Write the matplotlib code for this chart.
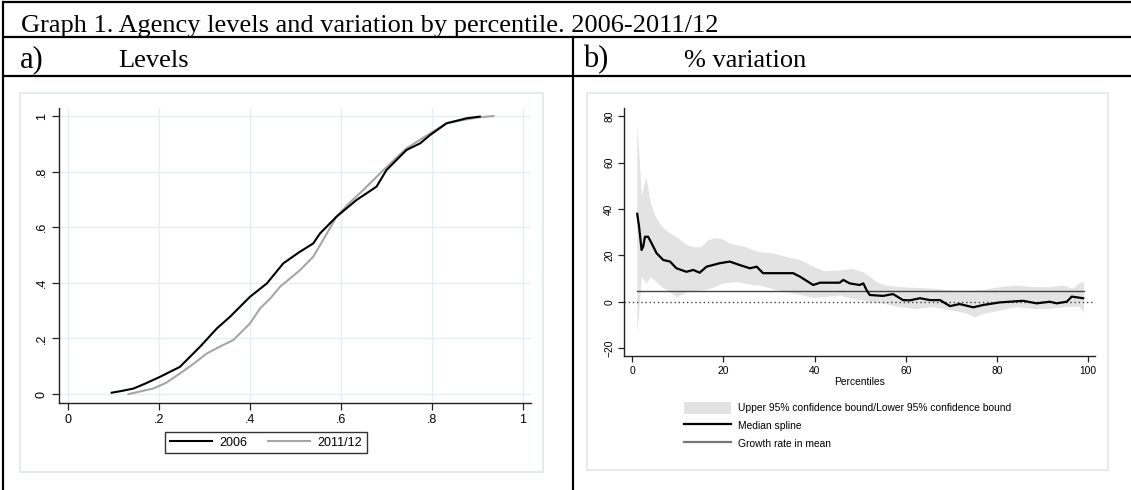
"""Graph 1 - agency levels (CDF) and % variation by percentile, 2006-2011/12."""
import matplotlib

matplotlib.use("Agg")
import matplotlib.pyplot as plt
from matplotlib.patches import Patch, Rectangle
from matplotlib.lines import Line2D

plt.rcParams["font.family"] = ["Liberation Sans", "DejaVu Sans"]

# ---- panel a: cumulative distribution of agency ----
LVL_X_2006 = [0.096, 0.12, 0.144, 0.17, 0.202, 0.246, 0.29, 0.327, 0.356, 0.40, 0.437,
              0.473, 0.506, 0.539, 0.554, 0.59, 0.634, 0.678, 0.70, 0.744, 0.774, 0.796,
              0.832, 0.876, 0.905]
LVL_Y_2006 = [0.005, 0.012, 0.02, 0.038, 0.062, 0.098, 0.17, 0.236, 0.278, 0.35, 0.398,
              0.47, 0.508, 0.542, 0.578, 0.638, 0.698, 0.746, 0.806, 0.878, 0.902, 0.932,
              0.974, 0.992, 0.998]
LVL_X_2011 = [0.133, 0.16, 0.1875, 0.215, 0.246, 0.275, 0.305, 0.335, 0.363, 0.40, 0.422,
              0.445, 0.466, 0.51, 0.539, 0.569, 0.59, 0.62, 0.649, 0.686, 0.715, 0.744,
              0.796, 0.832, 0.869, 0.90, 0.935]
LVL_Y_2011 = [0.0, 0.01, 0.02, 0.04, 0.074, 0.108, 0.146, 0.172, 0.194, 0.254, 0.308,
              0.345, 0.386, 0.446, 0.494, 0.578, 0.638, 0.69, 0.734, 0.794, 0.84, 0.884,
              0.938, 0.974, 0.986, 0.995, 1.0]
LVL_TICKS = [0, 0.2, 0.4, 0.6, 0.8, 1]
LVL_TICKLABELS = ["0", ".2", ".4", ".6", ".8", "1"]

# ---- panel b: % variation by percentile ----
BAND_X = [1, 1.5, 2, 2.5, 3, 4, 5, 6.5, 8, 9.7, 12, 13.5, 15, 16.5, 18, 19.5, 21.5, 23,
          25, 27, 28, 31, 34, 37, 40, 42, 45.5, 48, 50.5, 52, 53.5, 55.5, 58.5, 62, 66,
          70, 73, 75, 77, 80.5, 84, 88, 91.5, 94.5, 96.5, 98, 99]
BAND_UP = [77, 62.6, 45.3, 50, 54, 42.5, 37, 32.4, 30, 28, 24.5, 23.7, 23.7, 26.6, 27.6,
           27.3, 25.2, 24.5, 23.7, 22, 21.6, 20.9, 19.4, 18, 15, 13.4, 13.7, 14.4, 13, 11,
           8.6, 7.2, 6.5, 6.2, 5.8, 5.0, 5.0, 5.0, 5.3, 6.5, 7.2, 6.5, 6.5, 7.2, 5.8, 8.2,
           8.6]
BAND_LO = [-13.6, -2.2, 10.8, 9.5, 7.9, 10.8, 9, 6.5, 4.5, 2.2, 4.3, 4.8, 5, 5.5, 6.5,
           7.9, 8.4, 8.6, 7.9, 7.2, 7.2, 5.5, 4.2, 3, 1.8, 2.2, 2.9, 1.5, 0.7, 0, -0.3,
           -0.8, -2.2, -2.9, -2.2, -3.6, -4.7, -6.5, -5, -3.6, -2.2, -2.9, -2.9, -2.2, -2,
           -2, -4.7]
MED_X = [1.1, 1.5, 2.06, 2.4, 2.8, 3.5, 4.25, 5.35, 6.8, 8.3, 9.7, 11.9, 13.4, 14.8,
         16.3, 19.2, 21.4, 23.6, 25.8, 27.3, 28.7, 32.4, 35.3, 36.8, 39.7, 41.2, 44.1,
         45.5, 46.3, 47.7, 49.9, 50.7, 51.4, 52.1, 55, 57.2, 59.4, 60.9, 63.1, 65.3, 67.5,
         69.7, 71.8, 74.8, 77, 80.6, 85.7, 88.7, 91.6, 93.1, 95.3, 96.4, 97.5, 98.9]
MED_Y = [37.9, 32.4, 22.3, 23.7, 28, 28, 25.2, 20.9, 18, 17.3, 14.4, 12.9, 13.7, 12.5,
         15.1, 16.6, 17.3, 15.8, 14.4, 15.1, 12.3, 12.3, 12.3, 10.8, 7.2, 8.2, 8.2, 8.2,
         9.4, 7.9, 7.2, 7.9, 5.0, 2.9, 2.5, 3.3, 0.7, 0.6, 1.5, 0.7, 0.7, -1.9, -1.0, -2.4,
         -1.4, -0.3, 0.4, -0.7, 0.0, -0.7, 0.0, 2.2, 1.9, 1.5]
MEAN_GROWTH = 4.5
MEAN_SPAN = [1, 99]
PCT_XTICKS = [0, 20, 40, 60, 80, 100]
PCT_YTICKS = [-20, 0, 20, 40, 60, 80]

W, H = 1131, 490
GRID = "#e6eef0"
REGION = "#e0e8ea"
SERIF = ["Liberation Serif", "DejaVu Serif"]


def fx(px):
    return px / W


def fy(py):
    return 1 - py / H


fig = plt.figure(figsize=(W / 100, H / 100), dpi=100)

# background table, drawn in pixel coordinates
bg = fig.add_axes([0, 0, 1, 1], zorder=0)
bg.set_xlim(0, W); bg.set_ylim(H, 0); bg.axis("off")
for y in (2, 37.5, 76):
    bg.plot([2, W], [y, y], color="black", lw=1.6, solid_capstyle="butt")
bg.plot([2.5, 2.5], [2, H], color="black", lw=1.6)
bg.plot([573, 573], [37.5, H], color="black", lw=1.6)
bg.text(21, 32, "Graph 1. Agency levels and variation by percentile. 2006-2011/12",
        family=SERIF, fontsize=19, va="baseline")
bg.text(20, 67, "a)", family=SERIF, fontsize=22, va="baseline")
bg.text(118, 67, "Levels", family=SERIF, fontsize=19, va="baseline")
bg.text(583, 67, "b)", family=SERIF, fontsize=22, va="baseline")
bg.text(684, 67, "% variation", family=SERIF, fontsize=19, va="baseline")
# Stata graph regions
bg.add_patch(Rectangle((20, 93), 523, 379, fc="white", ec=REGION, lw=1.2))
bg.add_patch(Rectangle((587, 93), 521, 377, fc="white", ec=REGION, lw=1.2))

# ---- panel a ----
ax = fig.add_axes([fx(59), fy(403), fx(531 - 59), (403 - 108) / H], zorder=1)
ax.plot(LVL_X_2006, LVL_Y_2006, color="black", lw=1.5, label="2006", zorder=3)
ax.plot(LVL_X_2011, LVL_Y_2011, color="#a6a6a6", lw=1.5, label="2011/12", zorder=2)
ax.set_xlim(-0.0198, 1.0176); ax.set_ylim(-0.032, 1.029)
ax.set_xticks(LVL_TICKS, LVL_TICKLABELS)
ax.set_yticks(LVL_TICKS, LVL_TICKLABELS)
ax.grid(True, color=GRID, lw=1.0)
ax.set_axisbelow(True)
for s in ("top", "right"):
    ax.spines[s].set_visible(False)
for s in ("left", "bottom"):
    ax.spines[s].set_color("#222"); ax.spines[s].set_linewidth(1.0)
ax.tick_params(axis="both", length=5, width=0.9, labelsize=9, pad=3, color="#222")
for lab in ax.get_yticklabels():
    lab.set_rotation(90); lab.set_va("center")
leg = ax.legend(loc="center", bbox_to_anchor=(fx(266), fy(442.5)),
                bbox_transform=fig.transFigure, ncol=2, fontsize=9, frameon=True,
                fancybox=False, edgecolor="black", handlelength=3.4, handletextpad=0.6,
                columnspacing=1.6, borderpad=0.35)
leg.get_frame().set_linewidth(1.0)

# ---- panel b ----
bx = fig.add_axes([fx(624), fy(356), fx(1095 - 624), (356 - 108) / H], zorder=1)
bx.fill_between(BAND_X, BAND_LO, BAND_UP, color="#e3e3e3", lw=0, zorder=1)
bx.axhline(0, color="#444", lw=1.0, ls=(0, (1, 2)), zorder=2)
bx.plot(MEAN_SPAN, [MEAN_GROWTH, MEAN_GROWTH], color="#444", lw=1.0, zorder=3)
bx.plot(MED_X, MED_Y, color="black", lw=1.6, zorder=4)
bx.set_xlim(-1.8, 101.5); bx.set_ylim(-23.4, 83.5)
bx.set_xticks(PCT_XTICKS); bx.set_yticks(PCT_YTICKS)
for s in ("top", "right"):
    bx.spines[s].set_visible(False)
for s in ("left", "bottom"):
    bx.spines[s].set_color("#222"); bx.spines[s].set_linewidth(1.0)
bx.tick_params(axis="both", length=4, width=0.9, labelsize=7.4, pad=3, color="#222")
for lab in bx.get_yticklabels():
    lab.set_rotation(90); lab.set_va("center")
bx.set_xlabel("Percentiles", fontsize=7.4, labelpad=1)
handles = [Patch(fc="#e3e3e3", ec="none"),
           Line2D([], [], color="black", lw=1.6),
           Line2D([], [], color="#777", lw=1.6)]
labels = ["Upper 95% confidence bound/Lower 95% confidence bound",
          "Median spline", "Growth rate in mean"]
bx.legend(handles, labels, loc="upper left", bbox_to_anchor=(fx(679), fy(397)),
          bbox_transform=fig.transFigure, frameon=False, fontsize=7.4, borderpad=0,
          handlelength=4.6, handleheight=1.4, handletextpad=0.65, labelspacing=0.55)

fig.savefig("out.png", dpi=100)
